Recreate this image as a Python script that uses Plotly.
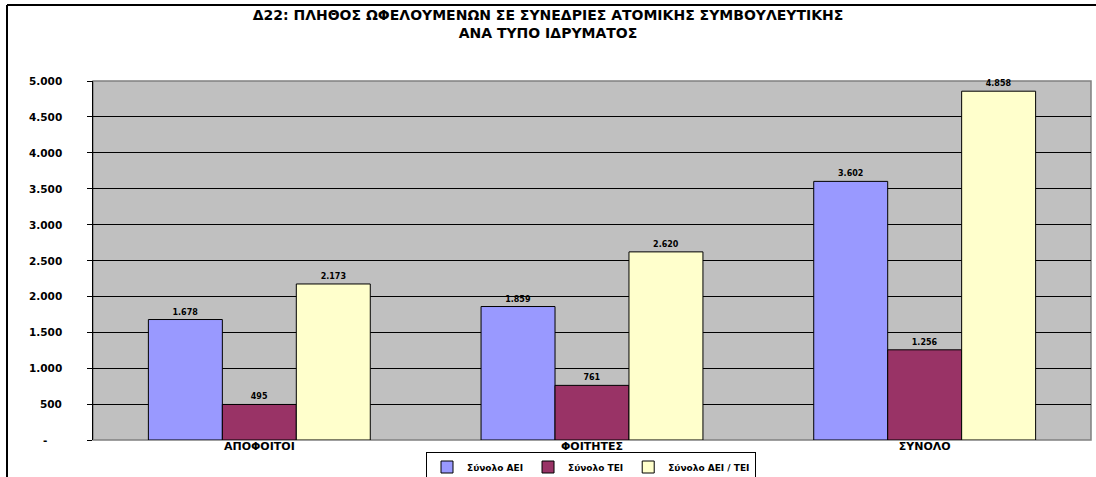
import plotly.graph_objects as go

categories = ["ΑΠΟΦΟΙΤΟΙ", "ΦΟΙΤΗΤΕΣ", "ΣΥΝΟΛΟ"]
series_names = ["Σύνολο ΑΕΙ", "Σύνολο ΤΕΙ", "Σύνολο ΑΕΙ / ΤΕΙ"]
aei = [1678, 1859, 3602]
tei = [495, 761, 1256]
aei_tei = [2173, 2620, 4858]
tick_vals = [0, 500, 1000, 1500, 2000, 2500, 3000, 3500, 4000, 4500, 5000]
tick_text = ["-\u00a0\u00a0\u00a0\u00a0", "500", "1.000", "1.500", "2.000", "2.500", "3.000", "3.500", "4.000", "4.500", "5.000"]
colors = ["#9999FF", "#993366", "#FFFFCC"]

W, H = 1096, 477
ml, mr, mt, mb = 93, 5, 81, 37
pw, ph = W - ml - mr, H - mt - mb
FONT = "DejaVu Sans"

fig = go.Figure()
for name, vals, col in zip(series_names, [aei, tei, aei_tei], colors):
    fig.add_trace(go.Bar(
        x=categories, y=vals, name=name,
        marker=dict(color=col, line=dict(color="black", width=1)),
        texttemplate="%{y:,}", textposition="outside", cliponaxis=False,
        textfont=dict(family=FONT, size=8, color="black", weight="bold"),
    ))

fig.update_layout(
    width=W, height=H,
    margin=dict(l=ml, r=mr, t=mt, b=mb, autoexpand=False),
    separators=",.",
    paper_bgcolor="white",
    plot_bgcolor="#C0C0C0",
    barmode="group", bargap=0.333, bargroupgap=0,
    font=dict(family=FONT, color="black"),
    title=dict(
        text="<b>Δ22: ΠΛΗΘΟΣ ΩΦΕΛΟΥΜΕΝΩΝ ΣΕ ΣΥΝΕΔΡΙΕΣ ΑΤΟΜΙΚΗΣ ΣΥΜΒΟΥΛΕΥΤΙΚΗΣ<br>ΑΝΑ ΤΥΠΟ ΙΔΡΥΜΑΤΟΣ</b>",
        x=548 / W, xref="container", xanchor="center", yref="container", y=1 - 20 / H, yanchor="middle",
        font=dict(family=FONT, size=14, color="black"),
    ),
    legend=dict(
        orientation="h", x=591 / W, xanchor="center", xref="container",
        yref="container", y=1 - 467 / H, yanchor="middle",
        bordercolor="black", borderwidth=1, bgcolor="white",
        font=dict(family=FONT, size=9, color="black", weight="bold"),
        itemwidth=30, tracegroupgap=0,
    ),
    showlegend=True,
)
fig.update_xaxes(
    showgrid=False, showline=False, ticks="", automargin=False,
    ticklabelstandoff=-2,
    tickfont=dict(family=FONT, size=11, color="black", weight="bold"),
)
fig.update_yaxes(
    range=[0, 5000], tickvals=tick_vals, showticklabels=False, automargin=False,
    showgrid=True, gridcolor="black", gridwidth=1,
    showline=True, linecolor="black", linewidth=1,
    ticks="outside", ticklen=5, tickcolor="black", zeroline=False,
)
# y tick labels placed right-aligned at the reference position
label_x = (64 - ml) / pw
for v, t in zip(tick_vals, tick_text):
    fig.add_annotation(x=label_x, xref="paper", y=v, yref="y", text=t, showarrow=False,
                       xanchor="right", yanchor="middle",
                       font=dict(family=FONT, size=10.5, color="black", weight="bold"))
# plot area border
fig.add_shape(type="rect", xref="paper", yref="paper", x0=0, x1=1, y0=0, y1=1,
              line=dict(color="#808080", width=1.5), layer="below")
# outer chart frame (left and top edges)
fx0 = (7 - ml) / pw
fy_top = (H - mb - 5) / ph
fig.add_shape(type="line", xref="paper", yref="paper", x0=fx0, x1=fx0, y0=-0.2, y1=fy_top,
              line=dict(color="black", width=2))
fig.add_shape(type="line", xref="paper", yref="paper", x0=fx0, x1=1.05, y0=fy_top, y1=fy_top,
              line=dict(color="black", width=2))

fig.write_html("out.html", config={"displayModeBar": False},
               post_script="document.body.style.margin='0px';document.body.style.overflow='hidden';")
